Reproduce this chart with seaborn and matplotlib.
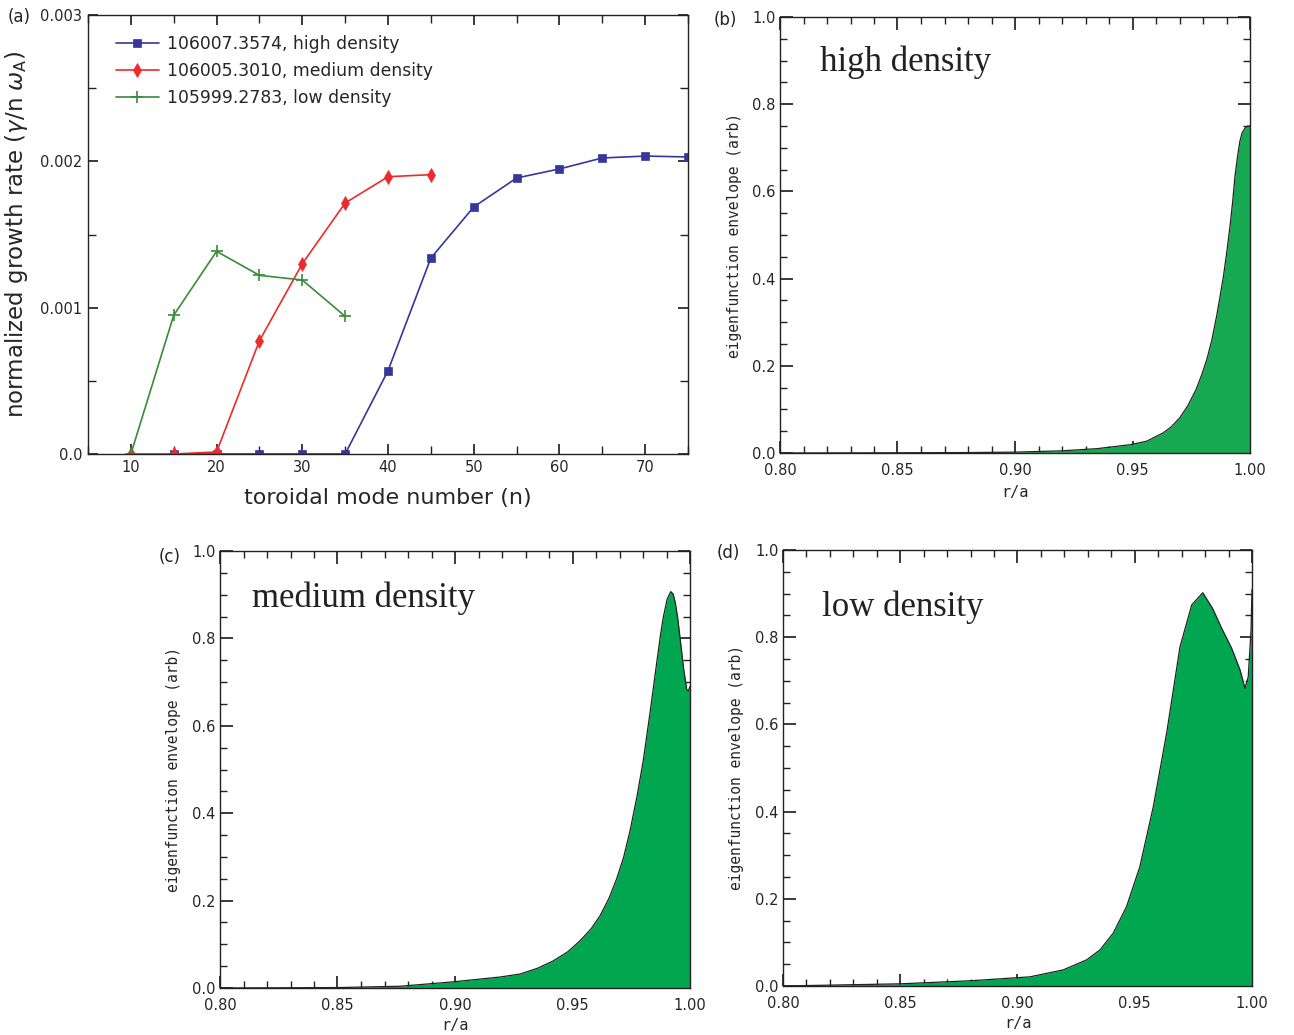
import matplotlib
matplotlib.use("Agg")
import matplotlib.pyplot as plt
from matplotlib.ticker import MultipleLocator, FixedLocator, FixedFormatter
import seaborn as sns
import pandas as pd

# ---------------- data ----------------
# Panel (a): growth rate vs toroidal mode number
n_high = [15, 20, 25, 30, 35, 40, 45, 50, 55, 60, 65, 70, 75]
g_high = [0.0, 0.0, 0.0, 0.0, 0.0, 0.000569, 0.001339, 0.001688, 0.001886,
          0.001948, 0.002023, 0.002036, 0.002030]
n_med = [10, 15, 20, 25, 30, 35, 40, 45]
g_med = [0.0, 0.0, 0.000014, 0.000774, 0.0013, 0.001715, 0.001895, 0.001909]
n_low = [10, 15, 20, 25, 30, 35]
g_low = [0.0, 0.000948, 0.001385, 0.001221, 0.001189, 0.000941]
labels_a = ["106007.3574, high density", "106005.3010, medium density",
            "105999.2783, low density"]

# Panels (b)-(d): eigenfunction envelopes
r_b = [0.80, 0.85, 0.88, 0.90, 0.92, 0.935, 0.949, 0.956, 0.963, 0.9665, 0.970,
       0.9735, 0.977, 0.9795, 0.9816, 0.9838, 0.9858, 0.9873, 0.9887, 0.9901,
       0.9915, 0.9926, 0.9936, 0.9947, 0.9957, 0.9967, 0.9979, 0.999, 1.0]
amp_b = [0.0, 0.0005, 0.001, 0.002, 0.005, 0.010, 0.019, 0.027, 0.046, 0.060, 0.080,
         0.108, 0.145, 0.180, 0.214, 0.260, 0.314, 0.360, 0.405, 0.460,
         0.520, 0.575, 0.634, 0.680, 0.715, 0.735, 0.745, 0.750, 0.750]

r_c = [0.80, 0.85, 0.8766, 0.899, 0.919, 0.9277, 0.935, 0.9418, 0.948, 0.9532,
       0.958, 0.9617, 0.9655, 0.9688, 0.9718, 0.9745, 0.9775, 0.9801, 0.983,
       0.9858, 0.9875, 0.9887, 0.9903, 0.9918, 0.9928, 0.9938, 0.9948, 0.9960,
       0.9973, 0.9986, 0.9993, 1.0]
amp_c = [0.0, 0.001, 0.004, 0.014, 0.025, 0.032, 0.045, 0.062, 0.083, 0.108,
         0.136, 0.165, 0.205, 0.250, 0.300, 0.360, 0.440, 0.520, 0.630,
         0.743, 0.810, 0.850, 0.890, 0.907, 0.902, 0.880, 0.845, 0.790,
         0.730, 0.683, 0.680, 0.690]

r_d = [0.80, 0.85, 0.88, 0.9053, 0.9195, 0.9295, 0.9352, 0.9408, 0.9465, 0.9522,
       0.9579, 0.9636, 0.9693, 0.9743, 0.9790, 0.9832, 0.9871, 0.9913, 0.9949,
       0.9970, 0.9984, 0.9996, 1.0]
amp_d = [0.0, 0.005, 0.012, 0.021, 0.037, 0.060, 0.083, 0.121, 0.182, 0.274,
         0.411, 0.580, 0.778, 0.874, 0.902, 0.866, 0.820, 0.775, 0.725, 0.683,
         0.709, 0.817, 0.91]

titles = ["high density", "medium density", "low density"]

# ---------------- style ----------------
sns.set_theme(style="ticks")
plt.rcParams["font.family"] = ["DejaVu Sans"]
plt.rcParams["axes.linewidth"] = 1.0
plt.rcParams["axes.edgecolor"] = "#222222"

fig = plt.figure(figsize=(12.94, 10.35), dpi=100)
W, H = 1294.0, 1035.0


def box(l, t, r, b):
    return [l / W, 1 - b / H, (r - l) / W, (b - t) / H]


ax_a = fig.add_axes(box(88, 15, 688, 454))
ax_b = fig.add_axes(box(780, 17, 1250, 453))
ax_c = fig.add_axes(box(220, 551, 690, 988))
ax_d = fig.add_axes(box(783, 550, 1252, 986))

# ---------------- panel (a) ----------------
c_high, c_med, c_low = "#36379a", "#ee2a2a", "#3a8a3a"
df_h = pd.DataFrame({"n": n_high, "g": g_high})
df_m = pd.DataFrame({"n": n_med, "g": g_med})
df_l = pd.DataFrame({"n": n_low, "g": g_low})
sns.lineplot(data=df_h, x="n", y="g", ax=ax_a, color=c_high, lw=1.2,
             marker="s", markersize=5.5, markeredgewidth=0.5,
             markeredgecolor=c_high, markerfacecolor=c_high, label=labels_a[0])
sns.lineplot(data=df_m, x="n", y="g", ax=ax_a, color=c_med, lw=1.2,
             marker="d", markersize=7.5, markeredgewidth=0.5,
             markeredgecolor=c_med, markerfacecolor=c_med, label=labels_a[1])
sns.lineplot(data=df_l, x="n", y="g", ax=ax_a, color=c_low, lw=1.2,
             marker="+", markersize=9, markeredgewidth=1.2,
             markeredgecolor=c_low, label=labels_a[2])
ax_a.set_xlim(5, 75)
ax_a.set_ylim(0, 0.003)
ax_a.xaxis.set_major_locator(FixedLocator([10, 20, 30, 40, 50, 60, 70]))
ax_a.xaxis.set_minor_locator(MultipleLocator(5))
ax_a.yaxis.set_major_locator(FixedLocator([0, 0.001, 0.002, 0.003]))
ax_a.yaxis.set_major_formatter(FixedFormatter(["0.0", "0.001", "0.002", "0.003"]))
ax_a.yaxis.set_minor_locator(MultipleLocator(0.0005))
ax_a.tick_params(which="both", direction="in", top=True, right=True,
                 labelsize=10.5, pad=4, color="#222222")
ax_a.tick_params(which="major", length=7)
ax_a.tick_params(which="minor", length=6)
ax_a.set_xlabel("toroidal mode number (n)", fontsize=16)
ax_a.set_ylabel(r"normalized growth rate ($\gamma$/n $\omega_\mathregular{A}$)",
                fontsize=16.5)
ax_a.xaxis.set_label_coords(0.5, -0.078)
ax_a.yaxis.set_label_coords(-0.097, 0.5)
leg = ax_a.legend(loc="upper left", bbox_to_anchor=(0.035, 0.969), frameon=False,
                  fontsize=12.4, handlelength=2.5, handletextpad=0.45,
                  labelspacing=0.5, borderaxespad=0)

# ---------------- panels (b)-(d) ----------------
panels = [(ax_b, r_b, amp_b, "#17a852", titles[0], (0.085, 0.897), -0.081, -0.073),
          (ax_c, r_c, amp_c, "#00a650", titles[1], (0.068, 0.892), -0.083, -0.069),
          (ax_d, r_d, amp_d, "#00a650", titles[2], (0.083, 0.869), -0.083, -0.069)]
for ax, r, a, col, title, pos, ylx, xly in panels:
    ax.fill_between(r, 0, a, color=col, lw=0)
    sns.lineplot(x=r, y=a, ax=ax, color="#222222", lw=0.9, sort=False)
    ax.set_xlim(0.8, 1.0)
    ax.set_ylim(0, 1.0)
    ax.xaxis.set_major_locator(MultipleLocator(0.05))
    ax.xaxis.set_minor_locator(MultipleLocator(0.01))
    ax.yaxis.set_major_locator(MultipleLocator(0.2))
    ax.yaxis.set_minor_locator(MultipleLocator(0.05))
    ax.xaxis.set_major_formatter(plt.FormatStrFormatter("%.2f"))
    ax.yaxis.set_major_formatter(plt.FormatStrFormatter("%.1f"))
    ax.tick_params(which="both", direction="in", top=True, right=True,
                   labelsize=10.5, color="#222222")
    ax.tick_params(axis="x", pad=7)
    ax.tick_params(axis="y", pad=3)
    ax.tick_params(which="major", length=9)
    ax.tick_params(which="minor", length=5)
    ax.set_xlabel("r/a", fontsize=11, family="DejaVu Sans Mono")
    ax.set_ylabel("eigenfunction envelope (arb)", fontsize=10.5,
                  family="DejaVu Sans Mono")
    ax.xaxis.set_label_coords(0.5, xly)
    ax.yaxis.set_label_coords(ylx, 0.5)
    ax.text(pos[0], pos[1], title, transform=ax.transAxes, fontsize=25,
            family="Liberation Serif", color="#222222", ha="left", va="center")

# ---------------- panel labels ----------------
for lab, x, y in [("(a)", 8, 17), ("(b)", 714, 20), ("(c)", 159, 557), ("(d)", 717, 553)]:
    fig.text(x / W, 1 - y / H, lab, fontsize=12, ha="left", va="center",
             color="#222222")

fig.savefig("out.png", dpi=100)
